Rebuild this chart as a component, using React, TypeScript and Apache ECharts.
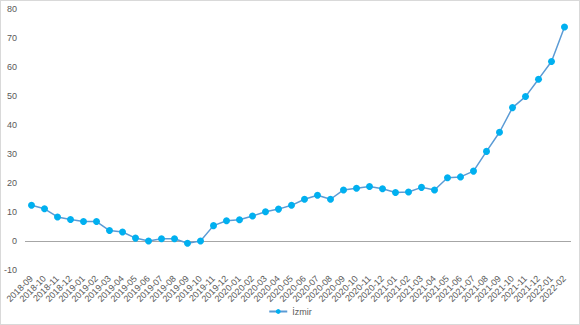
import React, { useEffect, useRef } from "react";
import * as echarts from "echarts";

const categories = [
  "2018-09", "2018-10", "2018-11", "2018-12",
  "2019-01", "2019-02", "2019-03", "2019-04", "2019-05", "2019-06",
  "2019-07", "2019-08", "2019-09", "2019-10", "2019-11", "2019-12",
  "2020-01", "2020-02", "2020-03", "2020-04", "2020-05", "2020-06",
  "2020-07", "2020-08", "2020-09", "2020-10", "2020-11", "2020-12",
  "2021-01", "2021-02", "2021-03", "2021-04", "2021-05", "2021-06",
  "2021-07", "2021-08", "2021-09", "2021-10", "2021-11", "2021-12",
  "2022-01", "2022-02",
];

const izmir = [
  12.3, 11.1, 8.3, 7.4,
  6.7, 6.7, 3.6, 3.1, 1.0, 0.0,
  0.8, 0.8, -0.8, 0.0, 5.3, 7.0,
  7.3, 8.6, 10.1, 11.0, 12.3, 14.4,
  15.8, 14.4, 17.6, 18.2, 18.8, 18.0,
  16.7, 16.9, 18.5, 17.6, 21.8, 22.1,
  24.1, 30.9, 37.5, 46.0, 49.8, 55.8,
  61.9, 73.8,
];

const seriesName = "İzmir";

export default function App() {
  const ref = useRef<HTMLDivElement>(null);

  useEffect(() => {
    document.body.style.margin = "0";
    if (!ref.current) return;
    const chart = echarts.init(ref.current, null, { renderer: "svg" });
    chart.setOption({
      animation: false,
      backgroundColor: "#ffffff",
      textStyle: { fontFamily: "Liberation Sans, Arial, sans-serif" },
      grid: { left: 23, right: 8, top: 8, bottom: 54, containLabel: false },
      legend: {
        bottom: 3,
        left: "center",
        itemWidth: 18,
        itemHeight: 6,
        itemGap: 4,
        textStyle: { color: "#595959", fontSize: 9 },
        data: [seriesName],
      },
      xAxis: {
        type: "category",
        data: categories,
        boundaryGap: true,
        axisLine: { show: false },
        axisTick: { show: false },
        axisLabel: {
          rotate: 45,
          interval: 0,
          color: "#595959",
          fontSize: 9,
          margin: 7,
        },
        splitLine: { show: false },
      },
      yAxis: {
        type: "value",
        min: -10,
        max: 80,
        interval: 10,
        axisLine: { show: false },
        axisTick: { show: false },
        axisLabel: { color: "#595959", fontSize: 9, margin: 8 },
        splitLine: { show: false },
      },
      series: [
        {
          name: seriesName,
          type: "line",
          data: izmir,
          symbol: "circle",
          symbolSize: 7,
          lineStyle: { color: "#5b9bd5", width: 1.5 },
          itemStyle: { color: "#00b0f0" },
          markLine: {
            silent: true,
            symbol: "none",
            label: { show: false },
            lineStyle: { color: "#a6a6a6", type: "solid", width: 1 },
            data: [{ yAxis: 0 }],
            z: 1,
          },
          z: 3,
        },
      ],
    });
    return () => chart.dispose();
  }, []);

  return (
    <div
      ref={ref}
      style={{
        position: "absolute",
        left: 0,
        top: 0,
        width: 580,
        height: 325,
        boxSizing: "border-box",
        border: "1px solid #d9d9d9",
      }}
    />
  );
}
